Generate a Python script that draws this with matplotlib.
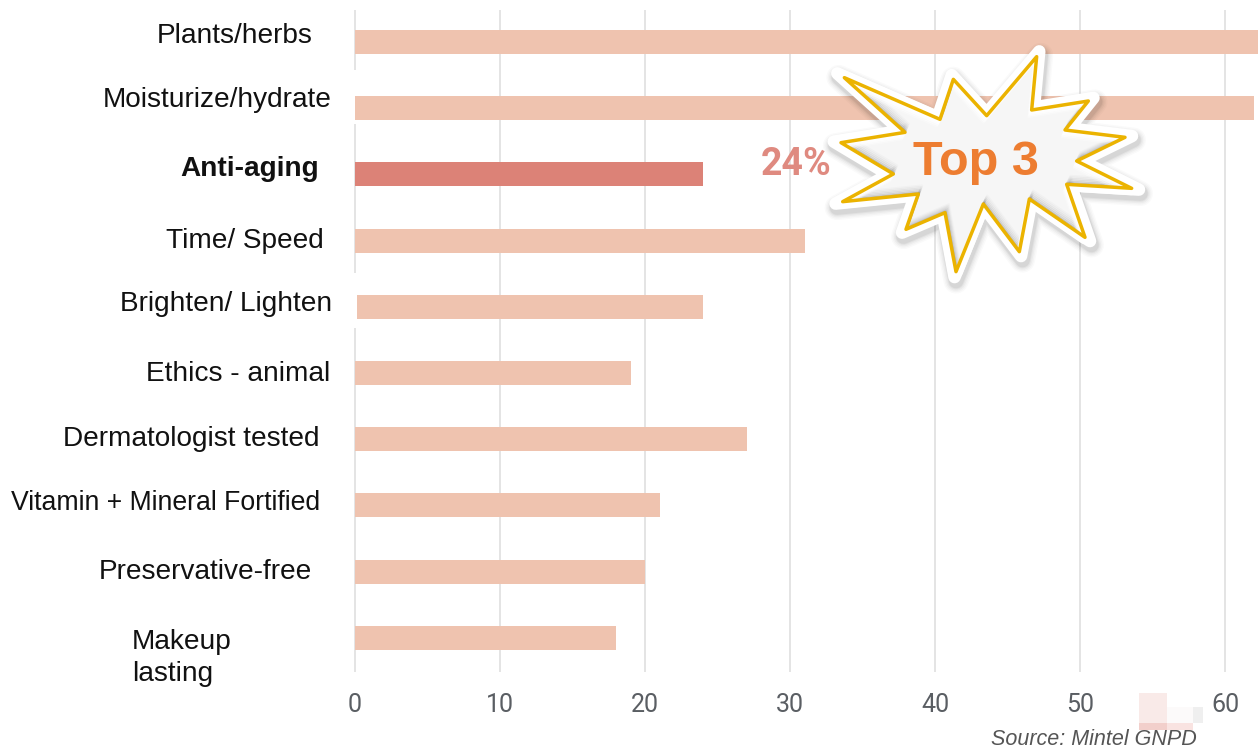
import matplotlib
matplotlib.use("Agg")
import matplotlib.pyplot as plt
from matplotlib.patches import Polygon, Rectangle
from matplotlib.transforms import Affine2D

W, H = 1258, 751
categories = ["Plants/herbs", "Moisturize/hydrate", "Anti-aging", "Time/ Speed", "Brighten/ Lighten",
              "Ethics - animal", "Dermatologist tested", "Vitamin + Mineral Fortified",
              "Preservative-free", "Makeup\nlasting"]
values = [63, 62, 24, 31, 24, 19, 27, 21, 20, 18]
starts = [0, 0, 0, 0, 0.15, 0, 0, 0, 0, 0]
highlight = "Anti-aging"
xticks = [0, 10, 20, 30, 40, 50, 60]
# label anchors in image pixels (left edge, vertical centre) and sizes
label_pos = [(157, 36), (103, 100), (180.5, 169), (166, 241), (120, 304),
             (146, 374), (63, 439), (11, 503), (99, 572), (132, 658)]
label_size = [20.2, 20.2, 20.2, 20.2, 20.2, 20.2, 20.2, 19.2, 20.2, 20.2]
# burst outline in image pixels
star_zoom = [(283,173),(570,298),(610,178),(710,287),(860,110),(845,270),(1015,243),(945,330),
             (1125,352),(980,423),(1145,505),(950,493),(1005,652),(838,537),(808,695),(700,552),
             (618,755),(585,578),(468,628),(505,522),(278,545),(430,462),(273,368),(465,337)]
star = [(750 + x / 3, 20 + y / 3) for x, y in star_zoom]
star_cx, star_cy = 985, 163

plt.rcParams["font.family"] = ["Liberation Sans", "DejaVu Sans"]
fig = plt.figure(figsize=(W / 100, H / 100), dpi=100, facecolor="white")
px = Affine2D().scale(1, -1).translate(0, H)

top, bottom, left = 10, 672, 355
ax = fig.add_axes([left / W, (H - bottom) / H, (W - left) / W, (bottom - top) / H])
ax.set_xlim(0, (W - left) / 14.5)
ymin, ymax = (bottom - 42) / 66.2, (top - 42) / 66.2
ax.set_ylim(ymin, ymax)
for s in ax.spines.values():
    s.set_visible(False)
ax.set_yticks([])
ax.set_xticks(xticks)
ax.tick_params(axis="x", length=0, pad=15)
for t in ax.get_xticklabels():
    t.set_fontfamily("Roboto")
    t.set_fontsize(18)
    t.set_color("#5a5e63")
ax.vlines(xticks, ymin, ymax, color="#dfdfdf", lw=1.2, zorder=1, clip_on=False)
ax.set_zorder(2)
ax.patch.set_alpha(0)
colors = ["#DC8277" if c == highlight else "#EFC3AF" for c in categories]
ax.barh(range(len(categories)), [v - s for v, s in zip(values, starts)], left=starts,
        height=0.3625, color=colors, zorder=3)

# breaks in the zero line
for y0, y1 in [(70, 124), (273, 328)]:
    ax.add_artist(Rectangle((352, y0), 5, y1 - y0, transform=px, fc="white", ec="none",
                            zorder=2, clip_on=False))

for c, (x, y), fs in zip(categories, label_pos, label_size):
    fig.text(x, y, c, transform=px, fontsize=fs, color="#111111", ha="left", va="center",
             fontweight="bold" if c == highlight else "normal", linespacing=1.26, zorder=5)

fig.text(761, 175, "24%", transform=px, fontsize=27, fontweight="bold", family="Roboto",
         color="#DF8A80", va="baseline", ha="left", zorder=5)

# faint mark above the source note
for (x, y, w, h, col) in [(1139, 693, 28, 30, "#F9EAE8"), (1139, 723, 28, 7, "#F2CFCB"),
                          (1167, 723, 26, 7, "#F9E3E1"), (1167, 707, 26, 16, "#FCFAFA"),
                          (1193, 707, 10, 16, "#EFEFEF")]:
    fig.add_artist(Rectangle((x, y), w, h, transform=px, fc=col, ec="none", zorder=4))
fig.text(991, 739.5, "Source: Mintel GNPD", transform=px, fontsize=15.5, style="italic",
         color="#555555", va="center", ha="left", zorder=5)


def shifted(dx, dy, scale=1.0):
    return [(star_cx + (x - star_cx) * scale + dx, star_cy + (y - star_cy) * scale + dy) for x, y in star]


# burst: soft drop shadow
for lw, a in [(18, .02), (16, .025), (14, .03), (12, .04), (10.5, .05)]:
    fig.add_artist(Polygon(shifted(1.5, 4, 1.05), closed=True, transform=px, fc=(0, 0, 0, a),
                           ec=(0, 0, 0, a), lw=lw, joinstyle="round", zorder=6))
# white border, tips reaching further out than the gold outline
fig.add_artist(Polygon(shifted(0, 0, 1.05), closed=True, transform=px, fc="white", ec="white", lw=9,
                       joinstyle="round", zorder=7))
fig.add_artist(Polygon(star, closed=True, transform=px, fc="white", ec="white", lw=10,
                       joinstyle="round", zorder=7))
# face
fig.add_artist(Polygon(star, closed=True, transform=px, fc="#F6F6F6", ec="none", zorder=8))
clip = Polygon(star, closed=True, transform=px)
# bevel: dark along edges facing down-left, white along edges facing up-right
for k, a in [(8.5, .02), (7, .03), (5.5, .05), (4, .07), (2.5, .10), (1.2, .16)]:
    p = Polygon(shifted(.45 * k, -k), closed=True, transform=px, fc="none",
                ec=(0, 0, 0, a), lw=1.6, joinstyle="round", zorder=8.2)
    fig.add_artist(p)
    p.set_clip_path(clip)
for k, a in [(7, .3), (5.5, .55), (4, .8), (2.5, .95), (1.2, 1)]:
    p = Polygon(shifted(-.45 * k, k), closed=True, transform=px, fc="none",
                ec=(1, 1, 1, a), lw=1.6, joinstyle="round", zorder=8.4)
    fig.add_artist(p)
    p.set_clip_path(clip)
# gold outline
fig.add_artist(Polygon(star, closed=True, transform=px, fc="none", ec="#EBB300", lw=2.5,
                       joinstyle="round", zorder=8.6))
fig.text(976, 175, "Top 3", transform=px, fontsize=35, fontweight="bold", color="#ED7D31",
         ha="center", va="baseline", zorder=9)

fig.savefig("out.png", dpi=100)
